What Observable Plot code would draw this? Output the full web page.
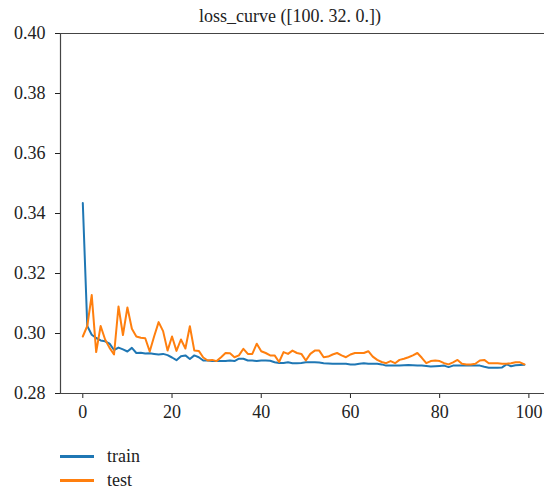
<!DOCTYPE html>
<html>
<head>
<meta charset="utf-8">
<script src="https://cdn.jsdelivr.net/npm/d3@7"></script>
<script src="https://cdn.jsdelivr.net/npm/@observablehq/plot@0.6"></script>
<style>
  html, body { margin: 0; padding: 0; background: #fff; }
  #wrap { position: relative; width: 544px; height: 493px; overflow: hidden; font-family: "Liberation Serif", "Tinos", "DejaVu Serif", serif; color: #222; }
  #title { position: absolute; left: 0; top: 2px; width: 580px; text-align: center; font-size: 18px; line-height: 28px; }
  #legend { position: absolute; left: 0; top: 444px; }
  .row { height: 24px; display: flex; align-items: center; font-size: 18px; }
  .sw { display: inline-block; margin-left: 60px; width: 34px; height: 3px; margin-right: 13px; }
  svg { overflow: visible; }
</style>
</head>
<body>
<div id="wrap">
  <div id="title"></div>
  <div id="chart"></div>
  <div id="legend"></div>
</div>
<script>
const titleText = "loss_curve ([100. 32. 0.])";
const seriesNames = ["train", "test"];
const seriesColors = ["#1f77b4", "#ff7f0e"];
const xTicks = [0, 20, 40, 60, 80, 100];
const yTicks = [0.28, 0.30, 0.32, 0.34, 0.36, 0.38, 0.40];

const train = [
  0.3435, 0.3025, 0.2996, 0.2985, 0.2977, 0.2974, 0.2966, 0.2945, 0.2953, 0.2947,
  0.2940, 0.2952, 0.2935, 0.2936, 0.2933, 0.2934, 0.2932, 0.2930, 0.2932, 0.2928,
  0.2920, 0.2911, 0.2924, 0.2927, 0.2915, 0.2927, 0.2921, 0.2910, 0.2910, 0.2908,
  0.2908, 0.2908, 0.2908, 0.2910, 0.2908, 0.2916, 0.2916, 0.2910, 0.2910, 0.2908,
  0.2910, 0.2910, 0.2909, 0.2904, 0.2902, 0.2902, 0.2904, 0.2901, 0.2901, 0.2902,
  0.2904, 0.2904, 0.2904, 0.2903, 0.2901, 0.2900, 0.2899, 0.2899, 0.2899, 0.2899,
  0.2897, 0.2897, 0.2899, 0.2901, 0.2899, 0.2899, 0.2899, 0.2897, 0.2893, 0.2893,
  0.2893, 0.2893, 0.2894, 0.2895, 0.2894, 0.2893, 0.2893, 0.2892, 0.2890, 0.2891,
  0.2892, 0.2893, 0.2888, 0.2893, 0.2893, 0.2893, 0.2893, 0.2893, 0.2893, 0.2893,
  0.2889, 0.2886, 0.2886, 0.2886, 0.2887, 0.2897, 0.2891, 0.2894, 0.2895, 0.2896
];
const test = [
  0.2990, 0.3025, 0.3128, 0.2938, 0.3025, 0.2980, 0.2952, 0.2930, 0.3090, 0.2995,
  0.3087, 0.3016, 0.2990, 0.2986, 0.2984, 0.2940, 0.2991, 0.3038, 0.3008, 0.2943,
  0.2990, 0.2942, 0.2980, 0.2950, 0.3024, 0.2943, 0.2942, 0.2920, 0.2910, 0.2912,
  0.2908, 0.2921, 0.2935, 0.2934, 0.2921, 0.2927, 0.2949, 0.2932, 0.2932, 0.2966,
  0.2941, 0.2935, 0.2927, 0.2927, 0.2905, 0.2938, 0.2932, 0.2943, 0.2935, 0.2932,
  0.2910, 0.2932, 0.2943, 0.2943, 0.2921, 0.2923, 0.2930, 0.2935, 0.2927, 0.2921,
  0.2930, 0.2935, 0.2935, 0.2935, 0.2941, 0.2923, 0.2912, 0.2905, 0.2901, 0.2908,
  0.2901, 0.2912, 0.2916, 0.2921, 0.2927, 0.2935, 0.2919, 0.2901, 0.2908, 0.2910,
  0.2908, 0.2901, 0.2897, 0.2904, 0.2912, 0.2899, 0.2897, 0.2897, 0.2899, 0.2910,
  0.2912, 0.2901, 0.2901, 0.2901, 0.2899, 0.2899, 0.2901, 0.2904, 0.2904, 0.2897
];

document.getElementById("title").textContent = titleText;

const xDomain = [-5, 103.5];
const yDomain = [0.28, 0.40];
const serifStack = "'Liberation Serif', 'Tinos', 'DejaVu Serif', serif";

const chart = Plot.plot({
  width: 544,
  height: 430,
  marginLeft: 60,
  marginRight: 0,
  marginTop: 33,
  marginBottom: 37,
  style: { fontFamily: serifStack, fontSize: "18px", color: "#222", background: "white" },
  x: { domain: xDomain, ticks: xTicks, tickFormat: d3.format("d"), tickSize: 5, tickPadding: 7, label: null },
  y: { domain: yDomain, ticks: yTicks, tickFormat: d3.format(".2f"), tickSize: 5, tickPadding: 10, label: null },
  marks: [
    Plot.ruleY([yDomain[0]], { stroke: "#444", strokeWidth: 1.2 }),
    Plot.ruleY([yDomain[1]], { stroke: "#444", strokeWidth: 1.2 }),
    Plot.ruleX([xDomain[0]], { stroke: "#444", strokeWidth: 1.2 }),
    Plot.line(train, { x: (d, i) => i, y: d => d, stroke: seriesColors[0], strokeWidth: 2 }),
    Plot.line(test, { x: (d, i) => i, y: d => d, stroke: seriesColors[1], strokeWidth: 2 })
  ]
});
chart.querySelectorAll("text, g").forEach(el => { el.style.fontFamily = serifStack; });
document.getElementById("chart").appendChild(chart);

const legend = document.getElementById("legend");
seriesNames.forEach((name, k) => {
  const row = document.createElement("div");
  row.className = "row";
  const sw = document.createElement("span");
  sw.className = "sw";
  sw.style.background = seriesColors[k];
  const lab = document.createElement("span");
  lab.textContent = name;
  row.appendChild(sw);
  row.appendChild(lab);
  legend.appendChild(row);
});
</script>
</body>
</html>
